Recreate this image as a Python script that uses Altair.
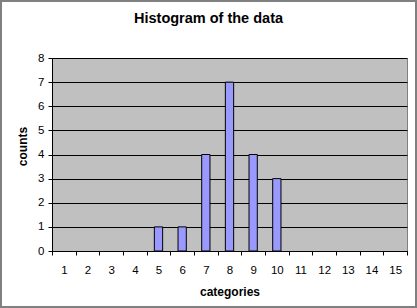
import altair as alt
import pandas as pd

categories = list(range(1, 16))
counts = [0, 0, 0, 0, 1, 1, 4, 7, 4, 3, 0, 0, 0, 0, 0]
y_ticks = list(range(0, 9))

df = pd.DataFrame({"category": categories, "count": counts})

FONT = "Liberation Sans"

bars = alt.Chart(df).transform_filter(
    alt.datum["count"] > 0
).mark_bar(
    width=alt.RelativeBandSize(0.35), color="#9999FF", stroke="black", strokeWidth=1
).encode(
    x=alt.X(
        "category:O",
        scale=alt.Scale(domain=categories, paddingInner=0, paddingOuter=0),
        axis=alt.Axis(
            title="categories", labelAngle=0, tickBand="extent", tickSize=4,
            tickColor="black", domainColor="black", labelPadding=9,
            labelFontSize=11.5, labelColor="black", labelFont=FONT,
            titleFont=FONT, titleFontSize=12, titleFontWeight="bold",
            titleY=35, titleBaseline="top", titleColor="black", grid=False,
        ),
    ),
    y=alt.Y(
        "count:Q",
        scale=alt.Scale(domain=[0, 8], nice=False),
        axis=alt.Axis(
            values=y_ticks, title="counts", grid=True, gridColor="black",
            gridOpacity=1, tickSize=4, tickColor="black", domainColor="black",
            labelPadding=4, labelFontSize=11.5, labelColor="black", labelFont=FONT,
            titleFont=FONT, titleFontSize=12, titleFontWeight="bold",
            titleColor="black", titleAngle=270, titleX=-30, titleY=88,
            titleAlign="center", titleBaseline="middle",
        ),
    ),
)

frame = alt.Chart(df).mark_rect(fill=None, stroke="#808080", strokeWidth=1.5, clip=False).encode(
    x=alt.value(-51.5), x2=alt.value(364.5), y=alt.value(-57.5), y2=alt.value(249.5)
)

chart = alt.layer(frame, bars).properties(
    width=355, height=193,
    title=alt.TitleParams(
        "Histogram of the data", anchor="middle", frame="group", dx=-21, offset=-27,
        font=FONT, fontSize=14.5, fontWeight="bold", color="black",
    ),
    autosize=alt.AutoSizeParams(type="none"),
    padding={"left": 52, "top": 58, "right": 10, "bottom": 57},
).configure(
    background="white"
).configure_view(
    fill="#C0C0C0", stroke="#808080", strokeWidth=1
)

chart.save("out.html", embed_options={"renderer": "svg", "actions": False})
